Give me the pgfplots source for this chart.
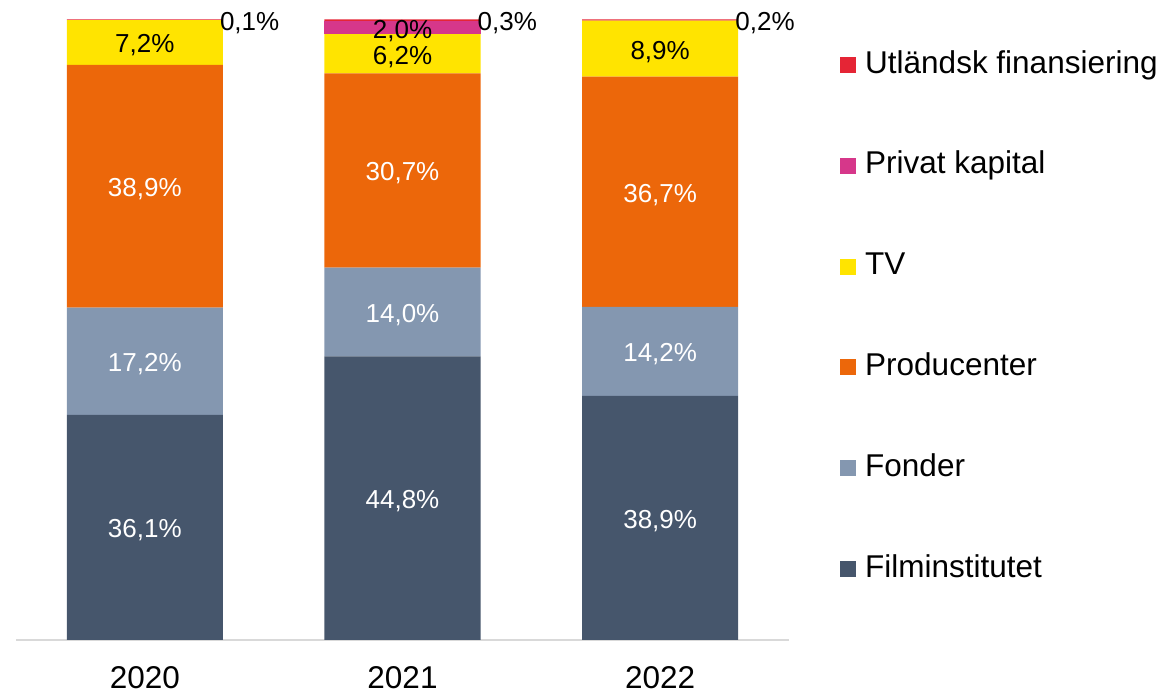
\documentclass[border=0pt]{standalone}
\usepackage{fontspec}
\setmainfont{Liberation Sans}
\usepackage{pgfplots}
\usepackage{pgfplotstable}
\pgfplotsset{compat=1.18}
\definecolor{cfi}{RGB}{70,86,108}
\definecolor{cfo}{RGB}{132,151,176}
\definecolor{cpr}{RGB}{236,103,10}
\definecolor{ctv}{RGB}{255,228,0}
\definecolor{cpk}{RGB}{214,55,138}
\definecolor{cut}{RGB}{229,37,53}
% values normalised to 100 % per year (as drawn), labels = published shares
\pgfplotstableread{
x fi fo pr tv pk ut lfi lfo lpr ltv lpk lut
0 36.28 17.29 39.10 7.24 0.00 0.10 36,1\% 17,2\% 38,9\% 7,2\% {} 0,1\%
1 45.71 14.29 31.33 6.33 2.04 0.31 44,8\% 14,0\% 30,7\% 6,2\% 2,0\% 0,3\%
2 39.33 14.36 37.11 9.00 0.00 0.20 38,9\% 14,2\% 36,7\% 8,9\% {} 0,2\%
}\data
\begin{document}
\begin{tikzpicture}
\path[use as bounding box] (0,0) rectangle (1163pt,693pt);
\begin{axis}[
  at={(16pt,53pt)}, anchor=south west,
  scale only axis, width=773pt, height=620.5pt,
  xmin=-0.5, xmax=2.5, ymin=0, ymax=100,
  ybar stacked, bar width=0.606,
  clip=false,
  axis x line*=bottom, axis y line=none,
  axis line style={draw=black!15, line width=1.2pt},
  xtick={0,1,2}, xticklabels={2020,2021,2022},
  major tick length=0pt,
  ytick=\empty,
  xticklabel style={font=\fontsize{31.5}{36}\selectfont, anchor=north, inner sep=0pt, yshift=-26pt},
  nodes near coords,
  point meta=explicit symbolic,
  every node near coord/.append style={font=\fontsize{26}{30}\selectfont, inner sep=0pt, anchor=center, yshift=-3pt},
  legend image code/.code={\fill[#1] (0pt,-8pt) rectangle (16pt,8pt);},
  reverse legend,
  legend cell align=left,
  legend style={at={(1.066,0.951)}, anchor=north west, draw=none, fill=none, inner sep=0pt,
    font=\fontsize{31.5}{36}\selectfont,
    nodes={inner sep=0pt, text height=23pt, text depth=7pt},
    column sep=9pt, row sep=70.8pt},
]
\addplot[fill=cfi, draw=none, every node near coord/.append style={text=white}]
  table[x=x, y=fi, meta=lfi] {\data};
\addplot[fill=cfo, draw=none, every node near coord/.append style={text=white}]
  table[x=x, y=fo, meta=lfo] {\data};
\addplot[fill=cpr, draw=none, every node near coord/.append style={text=white}]
  table[x=x, y=pr, meta=lpr] {\data};
\addplot[fill=ctv, draw=none, every node near coord/.append style={text=black}]
  table[x=x, y=tv, meta=ltv] {\data};
\addplot[fill=cpk, draw=none, every node near coord/.append style={text=black}]
  table[x=x, y=pk, meta=lpk] {\data};
\addplot[fill=cut, draw=none,
  every node near coord/.append style={text=black, anchor=west, xshift=75pt}]
  table[x=x, y=ut, meta=lut] {\data};
\legend{Filminstitutet,Fonder,Producenter,TV,Privat kapital,Utländsk finansiering}
\end{axis}
\end{tikzpicture}
\end{document}
